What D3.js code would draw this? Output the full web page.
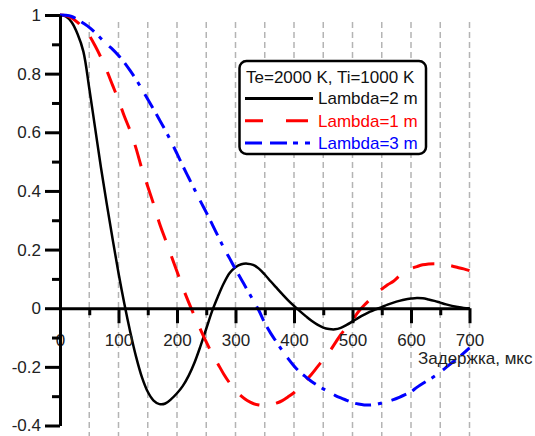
<!DOCTYPE html>
<html>
<head>
<meta charset="utf-8">
<script src="https://cdn.jsdelivr.net/npm/d3@7/dist/d3.min.js"></script>
<style>
  body { margin: 0; background: #fff; }
  svg { display: block; font-family: "Liberation Sans", Arial, sans-serif; }
</style>
</head>
<body>
<svg id="chart-area" width="535" height="436"></svg>
<script>
// delay, us
var delays = d3.range(0, 701, 10);

// correlation for each wavelength, sampled every 10 us
var lambda2 = [1, 0.995, 0.975, 0.935, 0.875, 0.75, 0.615, 0.48, 0.355, 0.235,
  0.12, 0.015, -0.08, -0.165, -0.235, -0.285, -0.315, -0.327, -0.325, -0.31,
  -0.29, -0.265, -0.23, -0.185, -0.13, -0.07, -0.01, 0.04, 0.085, 0.12,
  0.14, 0.15, 0.152, 0.148, 0.135, 0.115, 0.092, 0.07, 0.048, 0.027,
  0.008, -0.01, -0.027, -0.043, -0.056, -0.066, -0.071, -0.072, -0.067, -0.057,
  -0.045, -0.033, -0.022, -0.012, -0.004, 0.004, 0.012, 0.019, 0.025, 0.03,
  0.033, 0.035, 0.034, 0.03, 0.025, 0.019, 0.013, 0.008, 0.004, 0.001, 0];

var lambda1 = [1, 0.998, 0.99, 0.975, 0.955, 0.93, 0.895, 0.855, 0.81, 0.76,
  0.71, 0.655, 0.605, 0.545, 0.475, 0.415, 0.355, 0.29, 0.235, 0.18,
  0.125, 0.07, 0.02, -0.027, -0.072, -0.115, -0.155, -0.19, -0.225, -0.255,
  -0.28, -0.3, -0.315, -0.325, -0.33, -0.332, -0.33, -0.324, -0.315, -0.302,
  -0.288, -0.268, -0.247, -0.225, -0.2, -0.175, -0.15, -0.12, -0.09, -0.065,
  -0.04, -0.012, 0.01, 0.03, 0.05, 0.065, 0.08, 0.092, 0.11, 0.125,
  0.135, 0.142, 0.148, 0.151, 0.152, 0.151, 0.148, 0.144, 0.139, 0.134, 0.128];

var lambda3 = [1, 0.999, 0.995, 0.985, 0.972, 0.958, 0.94, 0.92, 0.9, 0.883,
  0.862, 0.838, 0.81, 0.78, 0.747, 0.713, 0.678, 0.643, 0.607, 0.568,
  0.527, 0.485, 0.445, 0.405, 0.365, 0.327, 0.287, 0.246, 0.206, 0.17,
  0.133, 0.098, 0.063, 0.028, -0.008, -0.05, -0.085, -0.115, -0.145, -0.172,
  -0.197, -0.218, -0.234, -0.25, -0.263, -0.275, -0.286, -0.297, -0.306, -0.314,
  -0.322, -0.327, -0.33, -0.33, -0.328, -0.323, -0.318, -0.312, -0.304, -0.295,
  -0.285, -0.27, -0.257, -0.245, -0.232, -0.218, -0.202, -0.186, -0.17, -0.153, -0.135];

var xTicks = [0, 100, 200, 300, 400, 500, 600, 700];
var xMinor = [50, 150, 250, 350, 450, 550, 650];
var xGrid = [50, 100, 150, 200, 250, 300, 350, 400, 450, 500, 550, 600, 650, 700];
var yTicks = [-0.4, -0.2, 0, 0.2, 0.4, 0.6, 0.8, 1];
var yMinor = [-0.3, -0.1, 0.1, 0.3, 0.5, 0.7, 0.9];

var xTitle = 'Задержка, мкс';
var legendTitle = 'Te=2000 K, Ti=1000 K';
var series = [
  {name: 'Lambda=2 m', values: lambda2, color: '#000', dash: null, legendDash: null},
  {name: 'Lambda=1 m', values: lambda1, color: '#ff0000', dash: '22,17', legendDash: '18,23,22,30'},
  {name: 'Lambda=3 m', values: lambda3, color: '#0000ff', dash: '16,7,16,7,4,10', legendDash: '17,8,17,6,5,7,5,30'}
];

var svg = d3.select('#chart-area');

var x = d3.scaleLinear().domain([0, 700]).range([60, 469.5]);
var y = d3.scaleLinear().domain([-0.4, 1]).range([425.5, 15]);

// dashed vertical grid
svg.append('g')
   .selectAll('line')
   .data(xGrid)
   .enter()
   .append('line')
   .attr('x1', d => x(d))
   .attr('x2', d => x(d))
   .attr('y1', 22)
   .attr('y2', 436)
   .attr('stroke', '#b4b4b4')
   .attr('stroke-width', 1.5)
   .attr('stroke-dasharray', '6,4');

// legend box
var lg = svg.append('g');
lg.append('rect')
  .attr('x', 239.5)
  .attr('y', 61)
  .attr('width', 186.5)
  .attr('height', 93)
  .attr('rx', 7)
  .attr('fill', '#fff')
  .attr('stroke', '#000')
  .attr('stroke-width', 2.5);

lg.append('text')
  .attr('x', 246)
  .attr('y', 77)
  .attr('dy', '0.35em')
  .attr('font-size', 17)
  .attr('fill', '#111')
  .text(legendTitle);

var rows = lg.selectAll('.row')
  .data(series)
  .enter()
  .append('g')
  .attr('class', 'row')
  .attr('transform', (d, i) => 'translate(0,' + (98.5 + i * 22.3) + ')');

rows.append('line')
    .attr('x1', 245)
    .attr('x2', 313)
    .attr('stroke', d => d.color)
    .attr('stroke-width', 3)
    .attr('stroke-dasharray', d => d.legendDash);

rows.append('text')
    .attr('x', 318)
    .attr('dy', '0.35em')
    .attr('font-size', 17)
    .attr('fill', d => d.color === '#000' ? '#111' : d.color)
    .text(d => d.name);

// curves
var line = d3.line()
    .x((d, i) => x(delays[i]))
    .y(d => y(d))
    .curve(d3.curveCatmullRom);

svg.append('g')
   .selectAll('path')
   .data(series)
   .enter()
   .append('path')
   .attr('d', d => line(d.values))
   .attr('fill', 'none')
   .attr('stroke', d => d.color)
   .attr('stroke-width', d => d.dash ? 3 : 2.5)
   .attr('stroke-dasharray', d => d.dash);

// x axis at y = 0
var xAxis = d3.axisBottom(x)
    .tickValues(xTicks)
    .tickSize(15)
    .tickSizeOuter(0)
    .tickPadding(11)
    .tickFormat(d => d);

var gx = svg.append('g')
    .attr('transform', 'translate(0,' + y(0) + ')')
    .call(xAxis);

svg.append('g')
   .attr('transform', 'translate(0,' + y(0) + ')')
   .call(d3.axisBottom(x).tickValues(xMinor).tickSize(7).tickSizeOuter(0).tickFormat(''))
   .select('.domain').remove();

// y axis
var yAxis = d3.axisLeft(y)
    .tickValues(yTicks)
    .tickSize(15)
    .tickSizeOuter(0)
    .tickPadding(4)
    .tickFormat(d => String(d));

var gy = svg.append('g')
    .attr('transform', 'translate(' + x(0) + ',0)')
    .call(yAxis);

svg.append('g')
   .attr('transform', 'translate(' + x(0) + ',0)')
   .call(d3.axisLeft(y).tickValues(yMinor).tickSize(8).tickSizeOuter(0).tickFormat(''))
   .select('.domain').remove();

svg.selectAll('.domain, .tick line')
   .attr('stroke', '#000')
   .attr('stroke-width', 3);

svg.selectAll('.tick text')
   .attr('font-size', 17)
   .attr('font-family', '"Liberation Sans", Arial, sans-serif')
   .attr('fill', '#222');

// axis title
svg.append('text')
   .attr('x', 418)
   .attr('y', 364)
   .attr('font-size', 17)
   .attr('fill', '#222')
   .text(xTitle);
</script>
</body>
</html>
